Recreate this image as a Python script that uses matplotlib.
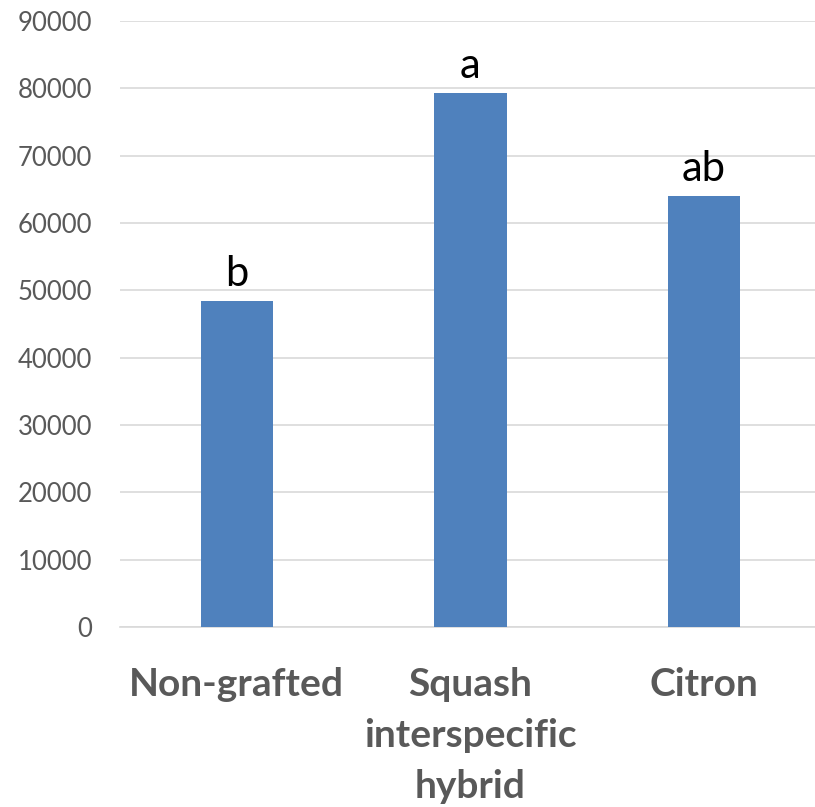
import numpy as np
import matplotlib
matplotlib.use('Agg')
import matplotlib.pyplot as plt

############################################
# data
############################################
categories = ['Non-grafted', 'Squash\ninterspecific\nhybrid', 'Citron']
values = [48400, 79300, 64000]
letters = ['b', 'a', 'ab']
yticks = np.arange(0, 90001, 10000)

plt.rcParams['font.family'] = ['Lato', 'DejaVu Sans']

############################################
# figure
############################################
fig = plt.figure(figsize=(8.15, 8.07), dpi=100)
ax = fig.add_axes([120/815, 1 - 627/807, 695/815, 606/807])

x = np.arange(len(categories))
bars = ax.bar(x, values, width=0.31, color='#4f81bd', zorder=3)
ax.bar_label(bars, labels=letters, padding=6, fontsize=30, color='black')

ax.set_xlim(-0.5, 2.476)
ax.set_ylim(0, 90000)
ax.set_yticks(yticks)
ax.set_yticklabels([str(v) for v in yticks])
ax.yaxis.grid(True, color='#d9d9d9', linewidth=1.2, zorder=0)

ax.set_xticks(x)
ax.set_xticklabels(categories, fontsize=28, fontweight='bold', color='#595959',
                   linespacing=1.55)
ax.tick_params(axis='x', length=0, pad=29)
ax.tick_params(axis='y', length=0, pad=20, labelsize=18.5, labelcolor='#595959')

for s in ['top', 'right', 'left']:
    ax.spines[s].set_visible(False)
ax.spines['bottom'].set_color('#d9d9d9')
ax.spines['bottom'].set_linewidth(1.2)

fig.savefig('out.png', dpi=100)
